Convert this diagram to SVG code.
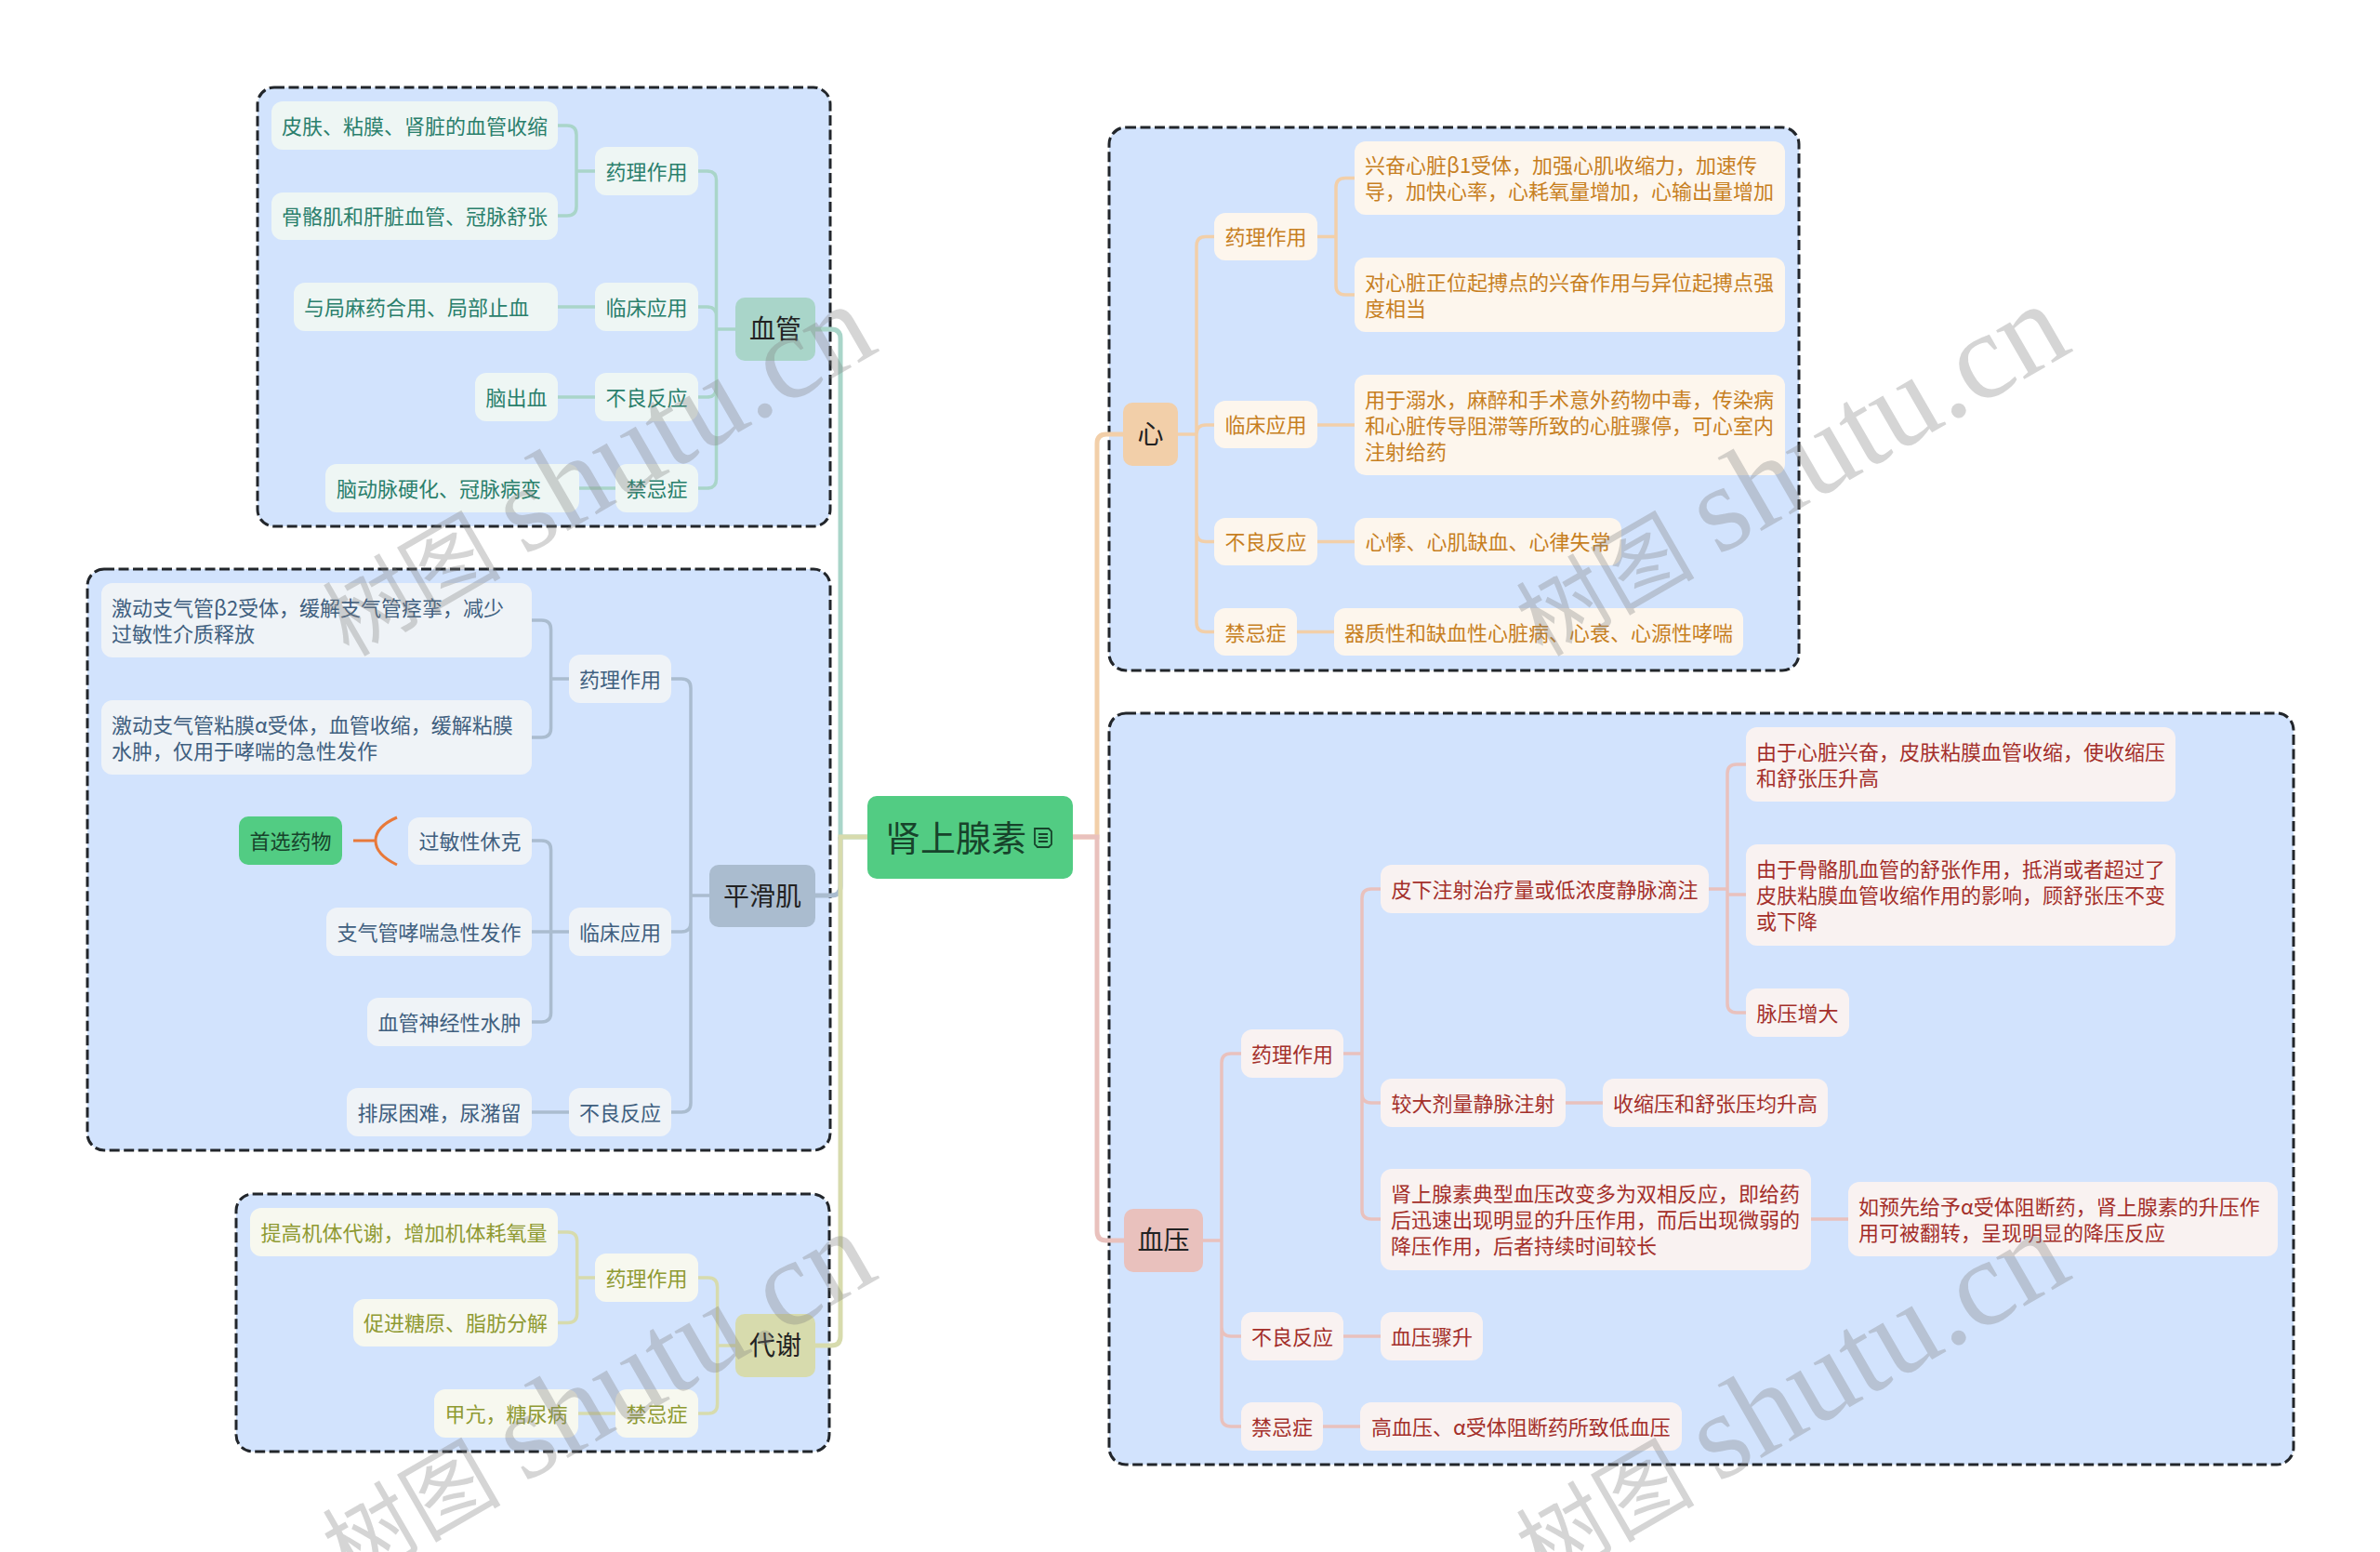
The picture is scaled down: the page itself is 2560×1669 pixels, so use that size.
<svg xmlns="http://www.w3.org/2000/svg" width="2560" height="1669" viewBox="0 0 2560 1669">
<style>
text{font-family:"Noto Sans CJK SC","Noto Sans",sans-serif;font-size:22px}
.f{fill:#d2e3fd;stroke:#22262b;stroke-width:3;stroke-dasharray:11 4.500}
.c{fill:none;stroke-width:3.5}
.m{fill:none;stroke-width:5}
.ct{stroke:#a9d5c9}.cs{stroke:#aabccf}.co{stroke:#d7dbad}.ch{stroke:#f2cfa9}.cb{stroke:#e9c1bd}
.nt rect{fill:#eef6f4}.nt text{fill:#2a7f6c}
.ns rect{fill:#eff3f7}.ns text{fill:#3f5f7f}
.no rect{fill:#f7f8ef}.no text{fill:#8f9a32}
.nh rect{fill:#fdf6ed}.nh text{fill:#c77f1f}
.nb rect{fill:#f9f2f1}.nb text{fill:#a42f2a}
.l1 text{font-size:28px;fill:#222}
.mid{text-anchor:middle}
.wm{fill:#808080;fill-opacity:.33}
.wm .a{font-family:"Noto Sans CJK SC",sans-serif;font-size:96px}
.wm .b{font-family:"Liberation Serif",serif;font-size:132px}
</style>
<g id="frames">
<rect class="f" x="277" y="94" width="616" height="472" rx="18"/>
<rect class="f" x="94" y="612" width="799" height="625" rx="18"/>
<rect class="f" x="254" y="1284" width="638" height="277" rx="18"/>
<rect class="f" x="1193" y="137" width="742" height="584" rx="18"/>
<rect class="f" x="1193" y="767" width="1274" height="808" rx="18"/>
</g>
<g id="connectors">
<path class="m ct" d="M877 354h17q10 0 10 10V900h29"/>
<path class="m cs" d="M877 963h17q10 0 10-10V900"/>
<path class="m co" d="M877 1447h17q10 0 10-10V900h29"/>
<path class="m ch" d="M1208 467h-18q-10 0-10 10V900h-26"/>
<path class="m cb" d="M1209 1334h-19q-10 0-10-10V900h-26"/>
<path class="c ct" d="M600 135h10q10 0 10 10v77q0 10-10 10h-10M640 184h-20M600 330h40M600 427h40M623 525h39M751 184h9.500q10 0 10 10V515q0 10-10 10h-9.500M791 354h-20.500M751 330h9.500q10 0 10 10M751 427h9.500q10 0 10-10"/>
<path class="c cs" d="M572 667h10.600q10 0 10 10V783q0 10-10 10H572M612 730h-19.400M572 904h10.600q10 0 10 10V1089q0 10-10 10H572M572 1002h40M572 1196h40M722 730h11q10 0 10 10V1186q0 10-10 10h-11M763 963h-20M722 1002h11q10 0 10-10"/>
<path class="c co" d="M600 1325h10.700q10 0 10 10v77.500q0 10-10 10H600M640 1374h-19.300M622 1520h40M751 1374h10.600q10 0 10 10v126q0 10-10 10H751M791 1447h-19.400"/>
<path class="c ch" d="M1306 254.500h-9q-10 0-10 10V669.500q0 10 10 10h9M1267 467h20M1306 457h-9q-10 0-10 10M1306 582.500h-9q-10 0-10-10M1457 191.500h-10q-10 0-10 10V307q0 10 10 10h10M1417 254.500h20M1417 457h40M1417 582.500h40M1395 679.500h40"/>
<path class="c cb" d="M1335 1133h-11q-10 0-10 10V1524q0 10 10 10h11M1294 1334h20M1335 1437h-11q-10 0-10-10M1485 956h-10q-10 0-10 10V1301q0 10 10 10h10M1445 1133h20M1485 1186h-10q-10 0-10-10M1445 1437h40M1423 1534h40M1684 1186h40M1948 1311h40M1878 822h-10q-10 0-10 10V1079q0 10 10 10h10M1838 956h20M1858 962h20"/>
</g>
<g id="root"><rect x="933" y="856" width="221" height="89" rx="10" fill="#52cc83"/><text x="952" y="915" style="font-size:38px" fill="#17432b">肾上腺素</text>
<path d="M1116 891h12l3 3v14l-3 3h-12l-3-3v-17zM1117 897h10M1117 901h10M1117 905h10" fill="none" stroke="#17432b" stroke-width="1.800"/></g>
<g id="n-xg" class="l1"><rect x="791" y="320" width="86" height="68" rx="10" fill="#a9d5c9"/><text class="mid" x="834" y="364">血管</text></g>
<g id="n-phj" class="l1"><rect x="763" y="930" width="114" height="67" rx="10" fill="#aabccf"/><text class="mid" x="820" y="974">平滑肌</text></g>
<g id="n-dx" class="l1"><rect x="791" y="1413" width="86" height="68" rx="10" fill="#d7dbad"/><text class="mid" x="834" y="1457">代谢</text></g>
<g id="n-x" class="l1"><rect x="1208" y="433" width="59" height="68" rx="10" fill="#f2cfa9"/><text class="mid" x="1237.500" y="477">心</text></g>
<g id="n-xy" class="l1"><rect x="1209" y="1300" width="85" height="68" rx="10" fill="#e9c1bd"/><text class="mid" x="1251.500" y="1344">血压</text></g>

<g id="t1" class="nt"><rect x="292" y="109" width="308" height="52" rx="12"/><text class="mid" x="446" y="144">皮肤、粘膜、肾脏的血管收缩</text></g>
<g id="t2" class="nt"><rect x="292" y="207" width="308" height="51" rx="12"/><text class="mid" x="446" y="241">骨骼肌和肝脏血管、冠脉舒张</text></g>
<g id="t3" class="nt"><rect x="640" y="158" width="111" height="52" rx="12"/><text class="mid" x="695.500" y="193">药理作用</text></g>
<g id="t4" class="nt"><rect x="316" y="304" width="284" height="52" rx="12"/><text x="327" y="339">与局麻药合用、局部止血</text></g>
<g id="t5" class="nt"><rect x="640" y="304" width="111" height="52" rx="12"/><text class="mid" x="695.500" y="339">临床应用</text></g>
<g id="t6" class="nt"><rect x="511" y="401" width="89" height="52" rx="12"/><text class="mid" x="555.500" y="436">脑出血</text></g>
<g id="t7" class="nt"><rect x="640" y="401" width="111" height="52" rx="12"/><text class="mid" x="695.500" y="436">不良反应</text></g>
<g id="t8" class="nt"><rect x="350" y="499" width="273" height="52" rx="12"/><text x="362" y="534">脑动脉硬化、冠脉病变</text></g>
<g id="t9" class="nt"><rect x="662" y="499" width="89" height="52" rx="12"/><text class="mid" x="706.500" y="534">禁忌症</text></g>

<g id="s1" class="ns"><rect x="109" y="627" width="463" height="80" rx="12"/><text x="120" y="662">激动支气管β2受体，缓解支气管痉挛，减少</text><text x="120" y="690">过敏性介质释放</text></g>
<g id="s2" class="ns"><rect x="109" y="753" width="463" height="80" rx="12"/><text x="120" y="788">激动支气管粘膜α受体，血管收缩，缓解粘膜</text><text x="120" y="816">水肿，仅用于哮喘的急性发作</text></g>
<g id="s3" class="ns"><rect x="612" y="704" width="110" height="52" rx="12"/><text class="mid" x="667" y="739">药理作用</text></g>
<g id="s4" class="ns"><rect x="439" y="879" width="133" height="51" rx="12"/><text class="mid" x="505.500" y="913">过敏性休克</text></g>
<g id="s5" class="ns"><rect x="351" y="976" width="221" height="52" rx="12"/><text class="mid" x="461.500" y="1011">支气管哮喘急性发作</text></g>
<g id="s6" class="ns"><rect x="612" y="976" width="110" height="52" rx="12"/><text class="mid" x="667" y="1011">临床应用</text></g>
<g id="s7" class="ns"><rect x="395" y="1073" width="177" height="52" rx="12"/><text class="mid" x="483.500" y="1108">血管神经性水肿</text></g>
<g id="s8" class="ns"><rect x="373" y="1170" width="199" height="52" rx="12"/><text class="mid" x="472.500" y="1205">排尿困难，尿潴留</text></g>
<g id="s9" class="ns"><rect x="612" y="1170" width="110" height="52" rx="12"/><text class="mid" x="667" y="1205">不良反应</text></g>
<g id="callout"><rect x="257" y="878" width="111" height="52" rx="10" fill="#52cc83"/><text class="mid" x="312.500" y="913" fill="#17432b">首选药物</text>
<path d="M380 904H404M427 879Q404 889 404 904Q404 919 427 930" fill="none" stroke="#e8793a" stroke-width="3"/></g>

<g id="o1" class="no"><rect x="269" y="1299" width="331" height="52" rx="12"/><text class="mid" x="434.500" y="1334">提高机体代谢，增加机体耗氧量</text></g>
<g id="o2" class="no"><rect x="380" y="1397" width="220" height="51" rx="12"/><text class="mid" x="490" y="1431">促进糖原、脂肪分解</text></g>
<g id="o3" class="no"><rect x="640" y="1348" width="111" height="52" rx="12"/><text class="mid" x="695.500" y="1383">药理作用</text></g>
<g id="o4" class="no"><rect x="467" y="1494" width="155" height="52" rx="12"/><text class="mid" x="544.500" y="1529">甲亢，糖尿病</text></g>
<g id="o5" class="no"><rect x="662" y="1494" width="89" height="52" rx="12"/><text class="mid" x="706.500" y="1529">禁忌症</text></g>

<g id="h1" class="nh"><rect x="1306" y="229" width="111" height="51" rx="12"/><text class="mid" x="1361.500" y="263">药理作用</text></g>
<g id="h2" class="nh"><rect x="1457" y="152" width="463" height="79" rx="12"/><text x="1468" y="186">兴奋心脏β1受体，加强心肌收缩力，加速传</text><text x="1468" y="214">导，加快心率，心耗氧量增加，心输出量增加</text></g>
<g id="h3" class="nh"><rect x="1457" y="277" width="463" height="80" rx="12"/><text x="1468" y="312">对心脏正位起搏点的兴奋作用与异位起搏点强</text><text x="1468" y="340">度相当</text></g>
<g id="h4" class="nh"><rect x="1306" y="431" width="111" height="51" rx="12"/><text class="mid" x="1361.500" y="465">临床应用</text></g>
<g id="h5" class="nh"><rect x="1457" y="403" width="463" height="108" rx="12"/><text x="1468" y="438">用于溺水，麻醉和手术意外药物中毒，传染病</text><text x="1468" y="466">和心脏传导阻滞等所致的心脏骤停，可心室内</text><text x="1468" y="494">注射给药</text></g>
<g id="h6" class="nh"><rect x="1306" y="557" width="111" height="51" rx="12"/><text class="mid" x="1361.500" y="591">不良反应</text></g>
<g id="h7" class="nh"><rect x="1457" y="557" width="287" height="51" rx="12"/><text class="mid" x="1600.500" y="591">心悸、心肌缺血、心律失常</text></g>
<g id="h8" class="nh"><rect x="1306" y="654" width="89" height="51" rx="12"/><text class="mid" x="1350.500" y="689">禁忌症</text></g>
<g id="h9" class="nh"><rect x="1435" y="654" width="440" height="51" rx="12"/><text class="mid" x="1655" y="689">器质性和缺血性心脏病、心衰、心源性哮喘</text></g>

<g id="b1" class="nb"><rect x="1335" y="1107" width="110" height="52" rx="12"/><text class="mid" x="1390" y="1142">药理作用</text></g>
<g id="b2" class="nb"><rect x="1485" y="930" width="353" height="52" rx="12"/><text class="mid" x="1661.500" y="965">皮下注射治疗量或低浓度静脉滴注</text></g>
<g id="b3" class="nb"><rect x="1878" y="782" width="462" height="80" rx="12"/><text x="1889" y="817">由于心脏兴奋，皮肤粘膜血管收缩，使收缩压</text><text x="1889" y="845">和舒张压升高</text></g>
<g id="b4" class="nb"><rect x="1878" y="908" width="462" height="109" rx="12"/><text x="1889" y="943">由于骨骼肌血管的舒张作用，抵消或者超过了</text><text x="1889" y="971">皮肤粘膜血管收缩作用的影响，顾舒张压不变</text><text x="1889" y="999">或下降</text></g>
<g id="b5" class="nb"><rect x="1878" y="1063" width="111" height="52" rx="12"/><text class="mid" x="1933.500" y="1098">脉压增大</text></g>
<g id="b6" class="nb"><rect x="1485" y="1160" width="199" height="52" rx="12"/><text class="mid" x="1584.500" y="1195">较大剂量静脉注射</text></g>
<g id="b7" class="nb"><rect x="1724" y="1160" width="242" height="52" rx="12"/><text class="mid" x="1845" y="1195">收缩压和舒张压均升高</text></g>
<g id="b8" class="nb"><rect x="1485" y="1257" width="463" height="109" rx="12"/><text x="1496" y="1292">肾上腺素典型血压改变多为双相反应，即给药</text><text x="1496" y="1320">后迅速出现明显的升压作用，而后出现微弱的</text><text x="1496" y="1348">降压作用，后者持续时间较长</text></g>
<g id="b9" class="nb"><rect x="1988" y="1271" width="462" height="80" rx="12"/><text x="1999" y="1306">如预先给予α受体阻断药，肾上腺素的升压作</text><text x="1999" y="1334">用可被翻转，呈现明显的降压反应</text></g>
<g id="b10" class="nb"><rect x="1335" y="1411" width="110" height="52" rx="12"/><text class="mid" x="1390" y="1446">不良反应</text></g>
<g id="b11" class="nb"><rect x="1485" y="1411" width="110" height="52" rx="12"/><text class="mid" x="1540" y="1446">血压骤升</text></g>
<g id="b12" class="nb"><rect x="1335" y="1508" width="88" height="52" rx="12"/><text class="mid" x="1379" y="1543">禁忌症</text></g>
<g id="b13" class="nb"><rect x="1463" y="1508" width="346" height="52" rx="12"/><text class="mid" x="1636" y="1543">高血压、α受体阻断药所致低血压</text></g>

<g id="watermarks">
<text class="wm" transform="translate(375 707) rotate(-30)"><tspan class="a">树图</tspan><tspan class="b" x="218">shutu.cn</tspan></text>
<text class="wm" transform="translate(1659 707) rotate(-30)"><tspan class="a">树图</tspan><tspan class="b" x="218">shutu.cn</tspan></text>
<text class="wm" transform="translate(375 1704) rotate(-30)"><tspan class="a">树图</tspan><tspan class="b" x="218">shutu.cn</tspan></text>
<text class="wm" transform="translate(1659 1704) rotate(-30)"><tspan class="a">树图</tspan><tspan class="b" x="218">shutu.cn</tspan></text>
</g>
</svg>
